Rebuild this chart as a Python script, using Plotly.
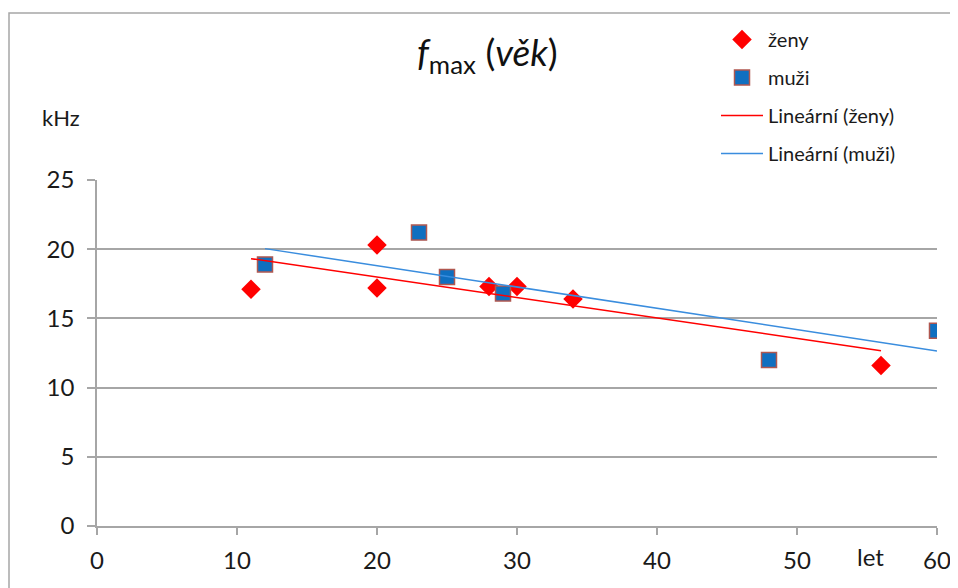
import numpy as np
import plotly.graph_objects as go

# Data
zeny_vek = [11, 20, 20, 28, 30, 34, 56]
zeny_f = [17.1, 20.3, 17.2, 17.3, 17.3, 16.4, 11.6]
muzi_vek = [12, 23, 25, 29, 48, 60]
muzi_f = [18.9, 21.2, 18.0, 16.8, 12.0, 14.1]
x_ticks = [0, 10, 20, 30, 40, 50, 60]
y_ticks = [0, 5, 10, 15, 20, 25]


def trend(xs, ys):
    k, q = np.polyfit(xs, ys, 1)
    xx = np.array([min(xs), max(xs)], dtype=float)
    return xx, k * xx + q


FONT = "Lato"
GRID = "#a6a6a6"
RED = "#ff0000"
BLUE_FILL = "#0f6fc0"
BLUE_LINE = "#3a8dde"
TXT = "#1a1a1a"

# figure is placed 8px from the page corner; plot area 89..929 x 172..518 (figure px)
W, H = 958, 580
L, R, T, B = 89, 29, 172, 62
PW, PH = W - L - R, H - T - B


def px(xf):
    return (xf - L) / PW


def py(yf):
    return (H - B - yf) / PH


fig = go.Figure()
fig.add_trace(go.Scatter(
    x=zeny_vek, y=zeny_f, mode="markers", name="ženy", legendgroup="a",
    marker=dict(symbol="diamond", size=15, color=RED, line=dict(width=0)),
))
fig.add_trace(go.Scatter(
    x=muzi_vek, y=muzi_f, mode="markers", name="muži", legendgroup="b",
    marker=dict(symbol="square", size=15, color=BLUE_FILL,
                line=dict(width=1.5, color="#b0574f")),
))
tx, ty = trend(zeny_vek, zeny_f)
fig.add_trace(go.Scatter(
    x=tx, y=ty, mode="lines", name="Lineární (ženy)", legendgroup="c",
    line=dict(color=RED, width=1.5),
))
tx, ty = trend(muzi_vek, muzi_f)
fig.add_trace(go.Scatter(
    x=tx, y=ty, mode="lines", name="Lineární (muži)", legendgroup="d",
    line=dict(color=BLUE_LINE, width=1.5),
))

fig.update_layout(
    width=W, height=H,
    margin=dict(l=L, r=R, t=T, b=B, pad=0, autoexpand=False),
    paper_bgcolor="white", plot_bgcolor="white",
    font=dict(family=FONT, size=18, color=TXT),
    showlegend=True,
    legend=dict(
        x=px(708), y=py(12), xanchor="left", yanchor="top",
        font=dict(family=FONT, size=20, color=TXT),
        tracegroupgap=9, itemwidth=42, bgcolor="rgba(0,0,0,0)",
    ),
    xaxis=dict(
        range=[0, 60], tickvals=x_ticks, showgrid=False, zeroline=False,
        automargin=False,
        showline=True, linecolor=GRID, linewidth=1.5,
        ticks="outside", ticklen=7, tickcolor=GRID, tickwidth=1.5,
        ticklabelstandoff=5,
        tickfont=dict(family=FONT, size=24, color=TXT),
    ),
    yaxis=dict(
        range=[0, 25], tickvals=y_ticks, showgrid=True, gridcolor=GRID,
        gridwidth=1.5, zeroline=False, automargin=False,
        showline=True, linecolor=GRID, linewidth=1.5,
        ticks="outside", ticklen=8, tickcolor=GRID, tickwidth=1.5,
        ticklabelstandoff=8,
        tickfont=dict(family=FONT, size=24, color=TXT),
    ),
    shapes=[dict(
        type="rect", xref="paper", yref="paper",
        x0=px(1), x1=1.2, y0=-0.4, y1=py(5),
        line=dict(color=GRID, width=1.5), fillcolor="rgba(0,0,0,0)",
        layer="below",
    )],
    annotations=[
        dict(text="<i>f</i><sub>max</sub> (<i>věk</i>)", xref="paper", yref="paper",
             x=px(479), y=py(47), xanchor="center", yanchor="middle",
             showarrow=False, font=dict(family=FONT, size=37, color="#111111")),
        dict(text="kHz", xref="paper", yref="paper",
             x=px(53), y=py(109), xanchor="center", yanchor="middle",
             showarrow=False, font=dict(family=FONT, size=22, color=TXT)),
        dict(text="let", xref="paper", yref="paper",
             x=px(862), y=py(548), xanchor="center", yanchor="middle",
             showarrow=False, font=dict(family=FONT, size=24, color=TXT)),
    ],
)

fig.write_html("out.html")
